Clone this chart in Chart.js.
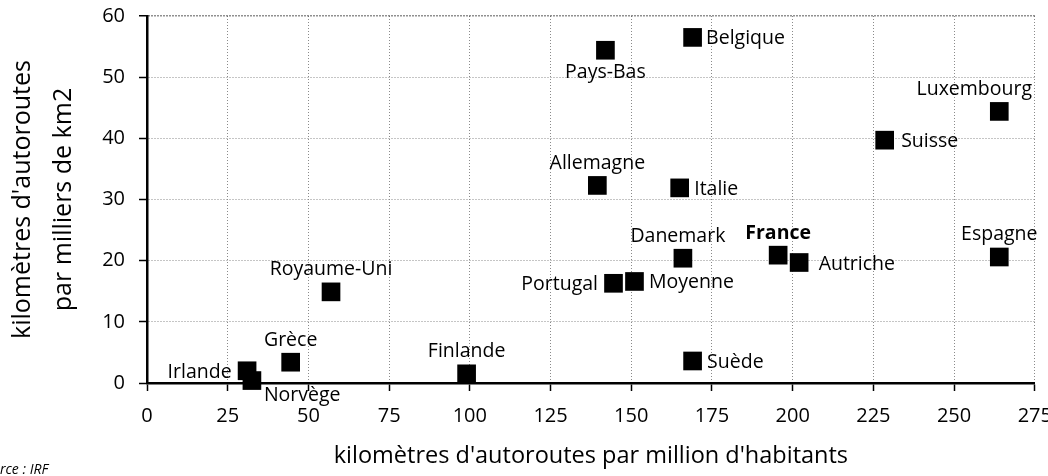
<!DOCTYPE html>
<html lang="fr">
<head>
<meta charset="utf-8">
<title>Densité autoroutière en Europe</title>
<script src="https://cdn.jsdelivr.net/npm/chart.js@4.4.1/dist/chart.umd.min.js"></script>
<style>
  html, body { margin: 0; padding: 0; background: #fff; }
  #wrap { width: 1048px; height: 476px; position: relative; }
</style>
</head>
<body>
<div id="wrap"><canvas id="chart"></canvas></div>
<script>
// Données
const pays = ['Irlande', 'Norvège', 'Grèce', 'Royaume-Uni', 'Finlande', 'Pays-Bas', 'Belgique',
    'Allemagne', 'Italie', 'Danemark', 'Portugal', 'Moyenne', 'France', 'Autriche',
    'Suisse', 'Luxembourg', 'Espagne', 'Suède'];
const kmParMillionHab = [31, 32.5, 44.5, 57, 99, 142, 169, 139.5, 165, 166, 144.5, 151, 195.5, 202, 228.5, 264, 264, 169];
const kmParMilliersKm2 = [2, 0.4, 3.4, 14.9, 1.5, 54.4, 56.5, 32.3, 31.9, 20.4, 16.3, 16.6, 20.9, 19.7, 39.7, 44.4, 20.6, 3.6];
const xTicks = [0, 25, 50, 75, 100, 125, 150, 175, 200, 225, 250, 275];
const yTicks = [0, 10, 20, 30, 40, 50, 60];

// Position des étiquettes autour des carrés
const placement = {
    'Irlande': { pos: 'left' },
    'Norvège': { pos: 'bottomRight' },
    'Grèce': { pos: 'top' },
    'Royaume-Uni': { pos: 'top' },
    'Finlande': { pos: 'top' },
    'Pays-Bas': { pos: 'bottom' },
    'Belgique': { pos: 'right', dx: -1 },
    'Allemagne': { pos: 'top' },
    'Italie': { pos: 'right' },
    'Danemark': { pos: 'top', dx: -5 },
    'Portugal': { pos: 'left' },
    'Moyenne': { pos: 'right' },
    'France': { pos: 'top', bold: true },
    'Autriche': { pos: 'right', dx: 5 },
    'Suisse': { pos: 'right', dx: 2 },
    'Luxembourg': { pos: 'top', dx: -25 },
    'Espagne': { pos: 'top' },
    'Suède': { pos: 'right' }
};

const police = '"Open Sans", "DejaVu Sans", sans-serif';
const texte = '#000';

const etiquettes = {
    id: 'etiquettes',
    afterDatasetsDraw(chart) {
        const ctx = chart.ctx;
        const meta = chart.getDatasetMeta(0);
        const demi = 9.5;
        ctx.save();
        ctx.fillStyle = texte;
        ctx.textBaseline = 'alphabetic';
        meta.data.forEach((pt, i) => {
            const nom = pays[i];
            const p = placement[nom] || { pos: 'right' };
            const dx = p.dx || 0;
            ctx.font = (p.bold ? 'bold ' : '') + '19.5px ' + police;
            let x = pt.x, y = pt.y;
            if (p.pos === 'left') {
                ctx.textAlign = 'right'; x = pt.x - demi - 6 + dx; y = pt.y + 7;
            } else if (p.pos === 'right') {
                ctx.textAlign = 'left'; x = pt.x + demi + 5 + dx; y = pt.y + 7;
            } else if (p.pos === 'top') {
                ctx.textAlign = 'center'; x = pt.x + dx; y = pt.y - demi - 7;
            } else if (p.pos === 'bottom') {
                ctx.textAlign = 'center'; x = pt.x + dx; y = pt.y + demi + 18;
            } else if (p.pos === 'bottomRight') {
                ctx.textAlign = 'left'; x = pt.x + 12 + dx; y = pt.y + 20;
            }
            ctx.fillText(nom, x, y);
        });
        ctx.restore();
    },
    afterDraw(chart) {
        // source, coupée par le bord gauche comme sur l'original
        const ctx = chart.ctx;
        ctx.save();
        ctx.font = 'italic 14px ' + police;
        ctx.fillStyle = texte;
        ctx.textAlign = 'left';
        ctx.textBaseline = 'alphabetic';
        const w = ctx.measureText('Sou').width;
        ctx.fillText('Source : IRF', -w, 474);
        ctx.restore();
    }
};

const points = pays.map((nom, i) => ({ x: kmParMillionHab[i], y: kmParMilliersKm2[i] }));

new Chart(document.getElementById('chart'), {
    type: 'scatter',
    data: {
        datasets: [{
            data: points,
            pointStyle: 'rect',
            pointRadius: 13.2,
            pointHoverRadius: 13.2,
            pointBackgroundColor: '#000',
            pointBorderWidth: 0,
            clip: false
        }]
    },
    options: {
        responsive: true,
        maintainAspectRatio: false,
        animation: false,
        events: [],
        layout: { padding: { top: 16, right: 13, left: 0, bottom: 0 } },
        plugins: {
            legend: { display: false },
            tooltip: { enabled: false }
        },
        scales: {
            x: {
                type: 'linear',
                min: 0,
                max: 275,
                afterBuildTicks: s => { s.ticks = xTicks.map(v => ({ value: v })); },
                afterFit: s => { s.height = 93; s.paddingLeft = 0; s.paddingRight = 0; },
                ticks: {
                    color: texte,
                    font: { family: police, size: 20 },
                    padding: 13,
                    maxRotation: 0
                },
                grid: {
                    color: '#8a8a8a',
                    lineWidth: 1,
                    tickLength: 8,
                    tickColor: '#000',
                    tickWidth: 1.5,
                    tickBorderDash: []
                },
                border: { color: '#000', width: 2.5, dash: [1, 2] },
                title: {
                    display: true,
                    text: "kilomètres d'autoroutes par million d'habitants",
                    color: texte,
                    font: { family: police, size: 23.5, lineHeight: 1.2 },
                    padding: { top: 0, bottom: 6 }
                }
            },
            y: {
                type: 'linear',
                min: 0,
                max: 60,
                afterBuildTicks: s => { s.ticks = yTicks.map(v => ({ value: v })); },
                afterFit: s => { s.width = 147; s.paddingTop = 0; s.paddingBottom = 0; },
                ticks: {
                    color: texte,
                    font: { family: police, size: 20 },
                    padding: 14
                },
                grid: {
                    color: ctx => ctx.tick && ctx.tick.value === 60 ? '#222' : '#8a8a8a',
                    lineWidth: ctx => ctx.tick && ctx.tick.value === 60 ? 1.5 : 1,
                    tickLength: 8,
                    tickColor: '#000',
                    tickWidth: 1.5,
                    tickBorderDash: []
                },
                border: { color: '#000', width: 2.5, dash: [1, 2] },
                title: {
                    display: true,
                    text: ["kilomètres d'autoroutes", 'par milliers de km2'],
                    color: texte,
                    font: { family: police, size: 25, lineHeight: 1.64 },
                    padding: { top: 2, bottom: 0 }
                }
            }
        }
    },
    plugins: [etiquettes]
});
</script>
</body>
</html>
